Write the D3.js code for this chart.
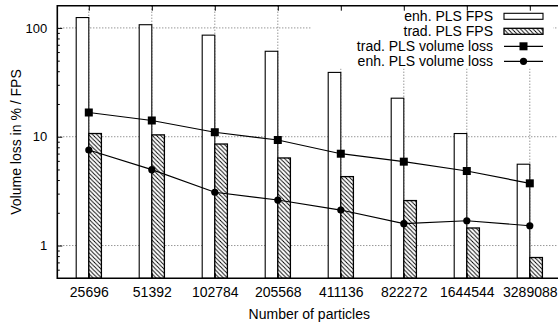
<!DOCTYPE html>
<html>
<head>
<meta charset="utf-8">
<script src="https://cdn.jsdelivr.net/npm/d3@7"></script>
<style>
  html, body { margin: 0; padding: 0; background: #fff; }
  svg { display: block; font-family: "Liberation Sans", Arial, Helvetica, sans-serif; }
</style>
</head>
<body>
<svg id="chart" width="558" height="327"></svg>
<script>
// ---- data ----
const categories = ["25696", "51392", "102784", "205568", "411136", "822272", "1644544", "3289088"];
const enhFPS   = [124.5, 107, 85.8, 61.0, 39.0, 22.6, 10.7, 5.59];
const tradFPS  = [10.7, 10.4, 8.57, 6.38, 4.30, 2.59, 1.45, 0.776];
const tradLoss = [16.7, 14.1, 11.0, 9.33, 6.98, 5.9, 4.84, 3.73];
const enhLoss  = [7.55, 4.98, 3.09, 2.62, 2.12, 1.59, 1.69, 1.52];
const yTicks = [1, 10, 100];
const legendLabels = ["enh. PLS FPS", "trad. PLS FPS", "trad. PLS volume loss", "enh. PLS volume loss"];
const xTitle = "Number of particles";
const yTitle = "Volume loss in % / FPS";

// ---- layout ----
const L = 57.3, R = 561.3, T = 5.7, B = 278.3;
const svg = d3.select("#chart");

const x = d3.scaleLinear().domain([-0.5, categories.length - 0.5]).range([L, R]);
const y = d3.scaleLog().domain([0.5, 160]).range([B, T]);
const barW = 0.2;

// hatch pattern
const defs = svg.append("defs");
const pat = defs.append("pattern").attr("id", "hatch").attr("patternUnits", "userSpaceOnUse")
  .attr("width", 4.2).attr("height", 4.2);
pat.append("rect").attr("width", 4.2).attr("height", 4.2).attr("fill", "#fff");
pat.append("path").attr("d", "M0,0 L4.2,4.2 M-1,3.2 L1,5.2 M3.2,-1 L5.2,1")
  .attr("stroke", "#000").attr("stroke-width", 0.9);
defs.append("clipPath").attr("id", "plotclip").append("rect")
  .attr("x", L).attr("y", T).attr("width", R - L).attr("height", B - T);

// grid
const grid = svg.append("g").attr("stroke", "#444").attr("stroke-width", 0.8).attr("stroke-dasharray", "1,2");
yTicks.forEach(v => grid.append("line").attr("x1", L).attr("x2", R).attr("y1", y(v)).attr("y2", y(v)));
categories.forEach((c, i) => grid.append("line").attr("x1", x(i)).attr("x2", x(i)).attr("y1", T).attr("y2", B));

// bars
const plot = svg.append("g").attr("clip-path", "url(#plotclip)");
plot.selectAll("rect.enh").data(enhFPS).join("rect").attr("class", "enh")
  .attr("x", (d, i) => x(i - barW)).attr("width", x(barW) - x(0))
  .attr("y", d => y(d)).attr("height", d => B - y(d))
  .attr("fill", "#fff").attr("stroke", "#000").attr("stroke-width", 1.1);
plot.selectAll("rect.trad").data(tradFPS).join("rect").attr("class", "trad")
  .attr("x", (d, i) => x(i)).attr("width", x(barW) - x(0))
  .attr("y", d => y(d)).attr("height", d => B - y(d))
  .attr("fill", "url(#hatch)").attr("stroke", "#000").attr("stroke-width", 1.3);

// lines
const line = d3.line().x((d, i) => x(i)).y(d => y(d));
plot.append("path").attr("d", line(tradLoss)).attr("fill", "none").attr("stroke", "#000").attr("stroke-width", 1.2);
plot.append("path").attr("d", line(enhLoss)).attr("fill", "none").attr("stroke", "#000").attr("stroke-width", 1.2);
const sq = 8;
plot.selectAll("rect.sq").data(tradLoss).join("rect").attr("class", "sq")
  .attr("x", (d, i) => x(i) - sq / 2).attr("y", d => y(d) - sq / 2)
  .attr("width", sq).attr("height", sq).attr("fill", "#000");
plot.selectAll("circle.ci").data(enhLoss).join("circle").attr("class", "ci")
  .attr("cx", (d, i) => x(i)).attr("cy", d => y(d)).attr("r", 3.6).attr("fill", "#000");

// legend (opaque)
svg.append("rect").attr("x", 312).attr("y", T + 0.8).attr("width", 241).attr("height", 62).attr("fill", "#fff");
const lg = svg.append("g");
const rowY = [16.3, 31.3, 46.3, 61.3];
const sx1 = 504, sx2 = 543;
legendLabels.forEach((t, i) => {
  lg.append("text").attr("x", 493).attr("y", rowY[i]).attr("dy", "0.36em")
    .attr("text-anchor", "end").attr("font-size", 14).attr("fill", "#000").text(t);
});
lg.append("rect").attr("x", sx1).attr("y", rowY[0] - 3).attr("width", sx2 - sx1).attr("height", 6)
  .attr("fill", "#fff").attr("stroke", "#000").attr("stroke-width", 1.1);
lg.append("rect").attr("x", sx1).attr("y", rowY[1] - 3).attr("width", sx2 - sx1).attr("height", 6)
  .attr("fill", "url(#hatch)").attr("stroke", "#000").attr("stroke-width", 1.3);
lg.append("line").attr("x1", sx1).attr("x2", sx2).attr("y1", rowY[2]).attr("y2", rowY[2]).attr("stroke", "#000").attr("stroke-width", 1.2);
lg.append("rect").attr("x", (sx1 + sx2) / 2 - sq / 2).attr("y", rowY[2] - sq / 2).attr("width", sq).attr("height", sq).attr("fill", "#000");
lg.append("line").attr("x1", sx1).attr("x2", sx2).attr("y1", rowY[3]).attr("y2", rowY[3]).attr("stroke", "#000").attr("stroke-width", 1.2);
lg.append("circle").attr("cx", (sx1 + sx2) / 2).attr("cy", rowY[3]).attr("r", 3.6).attr("fill", "#000");

// axes: left (ticks inward), bottom, top mirror ticks
const yAxis = d3.axisLeft(y).tickValues(yTicks).tickFormat(d3.format("d")).tickSize(-5).tickPadding(10);
const gy = svg.append("g").attr("transform", `translate(${L},0)`).call(yAxis);
gy.select(".domain").remove();
gy.selectAll("text").attr("font-size", 13).attr("font-family", "Liberation Sans, Arial, sans-serif").attr("fill", "#000");
gy.selectAll("line").attr("stroke", "#000").attr("stroke-width", 1);
const minor = [];
[0.1, 1, 10, 100].forEach(dec => { for (let k = 2; k <= 9; k++) { const v = dec * k; if (v > 0.5 && v < 160) minor.push(v); } });
const gym = svg.append("g").attr("transform", `translate(${L},0)`)
  .call(d3.axisLeft(y).tickValues(minor).tickFormat("").tickSize(-2.5));
gym.select(".domain").remove();
gym.selectAll("line").attr("stroke", "#000").attr("stroke-width", 1);

const xAxis = d3.axisBottom(x).tickValues(d3.range(categories.length)).tickFormat(i => categories[i]).tickSize(-5).tickPadding(9);
const gx = svg.append("g").attr("transform", `translate(0,${B})`).call(xAxis);
gx.select(".domain").remove();
gx.selectAll("text").attr("font-size", 14).attr("font-family", "Liberation Sans, Arial, sans-serif").attr("fill", "#000");
gx.selectAll("line").attr("stroke", "#000");

const gt = svg.append("g").attr("transform", `translate(0,${T})`)
  .call(d3.axisTop(x).tickValues(d3.range(categories.length)).tickFormat("").tickSize(-5));
gt.select(".domain").remove();
gt.selectAll("line").attr("stroke", "#000");

// border (right side is outside the picture)
svg.append("path").attr("d", `M${R},${T} L${L},${T} L${L},${B} L${R},${B}`)
  .attr("fill", "none").attr("stroke", "#000").attr("stroke-width", 1.6);

// titles
svg.append("text").attr("x", (L + R) / 2).attr("y", 319).attr("text-anchor", "middle")
  .attr("font-size", 14).attr("fill", "#000").text(xTitle);
svg.append("text").attr("transform", `translate(20.5,${(T + B) / 2}) rotate(-90)`).attr("text-anchor", "middle")
  .attr("font-size", 14).attr("fill", "#000").text(yTitle);
</script>
</body>
</html>
